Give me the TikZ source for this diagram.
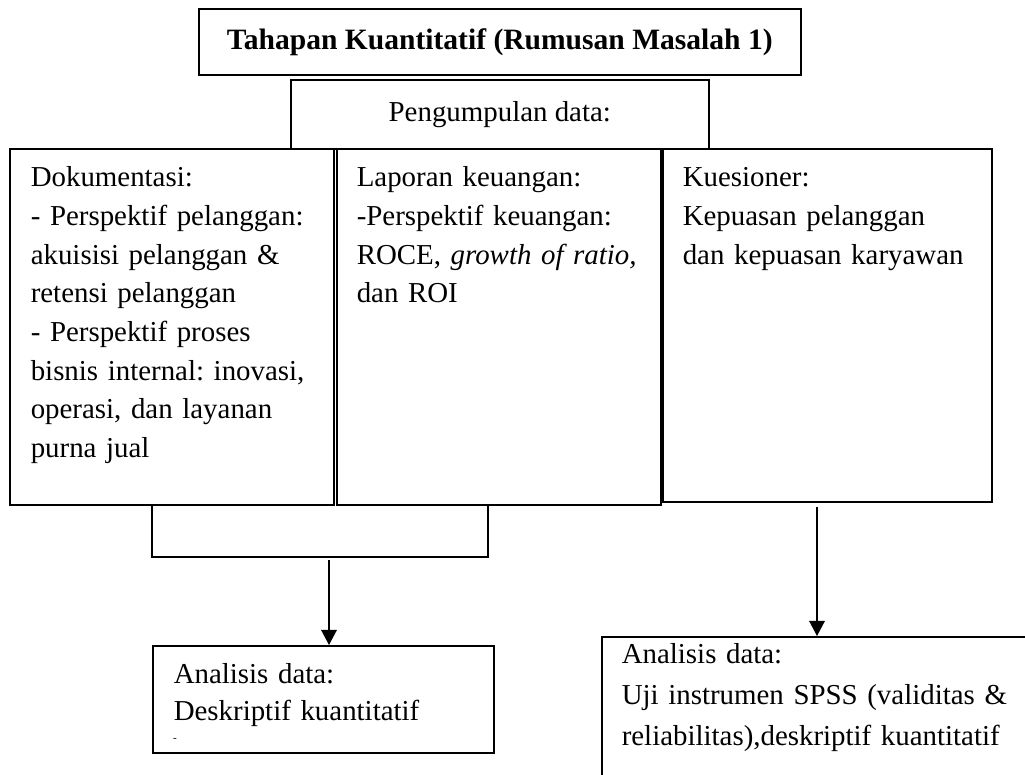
\documentclass[tikz,border=0pt]{standalone}
\usepackage{fontspec}
\setmainfont{Liberation Serif}
\frenchspacing
\usetikzlibrary{arrows.meta}

\begin{document}
\begin{tikzpicture}[x=0.45pt, y=-0.45pt,
    box/.style={draw, line width=0.7pt, anchor=north west, inner ysep=0pt, align=left,
      font=\fontsize{13}{17.4}\selectfont},
    flow/.style={-{Triangle[width=7pt,length=6.8pt]}, line width=0.7pt}]
    \useasboundingbox (0,0) rectangle (1025,774);
    \clip (0,0) rectangle (1025,774);

    % heading
    \node[draw, line width=0.7pt, anchor=north west, inner sep=0pt, minimum width=270.9pt, minimum height=29.7pt,
      font=\fontsize{13.3}{15}\selectfont\bfseries] (title) at (198,8) {Tahapan Kuantitatif (Rumusan Masalah 1)};
    \node[draw, line width=0.7pt, anchor=north west, inner sep=0pt, minimum width=188.1pt, minimum height=31.05pt,
      font=\fontsize{13}{15}\selectfont] (collect) at (290,79) {Pengumpulan data:};

    % sources
    \node[box, inner xsep=9.45pt, text width=126.9pt, text height=17.1pt, text depth=143.1pt] (doc) at (9,148)
      {Dokumentasi:\\- Perspektif pelanggan:\\akuisisi pelanggan \&\\retensi pelanggan\\- Perspektif proses\\bisnis internal: inovasi,\\operasi, dan layanan\\purna jual};
    \node[box, inner xsep=9pt, text width=127.8pt, text height=17.1pt, text depth=143.1pt] (lap) at (336,148)
      {Laporan keuangan:\\-Perspektif keuangan:\\ROCE, \textit{growth of ratio,}\\dan ROI};
    \node[box, inner xsep=9pt, text width=130.05pt, text height=17.1pt, text depth=141.75pt] (kues) at (662,148)
      {Kuesioner:\\Kepuasan pelanggan\\dan kepuasan karyawan};

    % join
    \coordinate (bl) at (152,557);
    \coordinate (br) at (488,557);
    \draw[line width=0.7pt] (bl |- doc.south) -- (bl) -- (br) -- (br |- lap.south);

    % analysis
    \node[box, inner xsep=9.45pt, text width=134.55pt, text height=17.1pt, text depth=31.05pt,
      font=\fontsize{13}{16.65}\selectfont] (res1) at (152,645)
      {Analisis data:\\Deskriptif kuantitatif};
    \node[inner sep=0pt, font=\fontsize{5}{5}\selectfont] (dot) at (175,740) {-};
    \node[box, inner xsep=9pt, text width=189pt, text height=12.15pt, text depth=77.85pt,
      font=\fontsize{13}{18.45}\selectfont] (res2) at (601,636)
      {Analisis data:\\Uji instrumen SPSS (validitas \&\\reliabilitas),deskriptif kuantitatif};

    % arrows
    \coordinate (drop1) at (329,560);
    \coordinate (drop2) at (817,507);
    \draw[flow] (drop1) -- (drop1 |- res1.north);
    \draw[flow] (drop2) -- (drop2 |- res2.north);
\end{tikzpicture}
\end{document}
